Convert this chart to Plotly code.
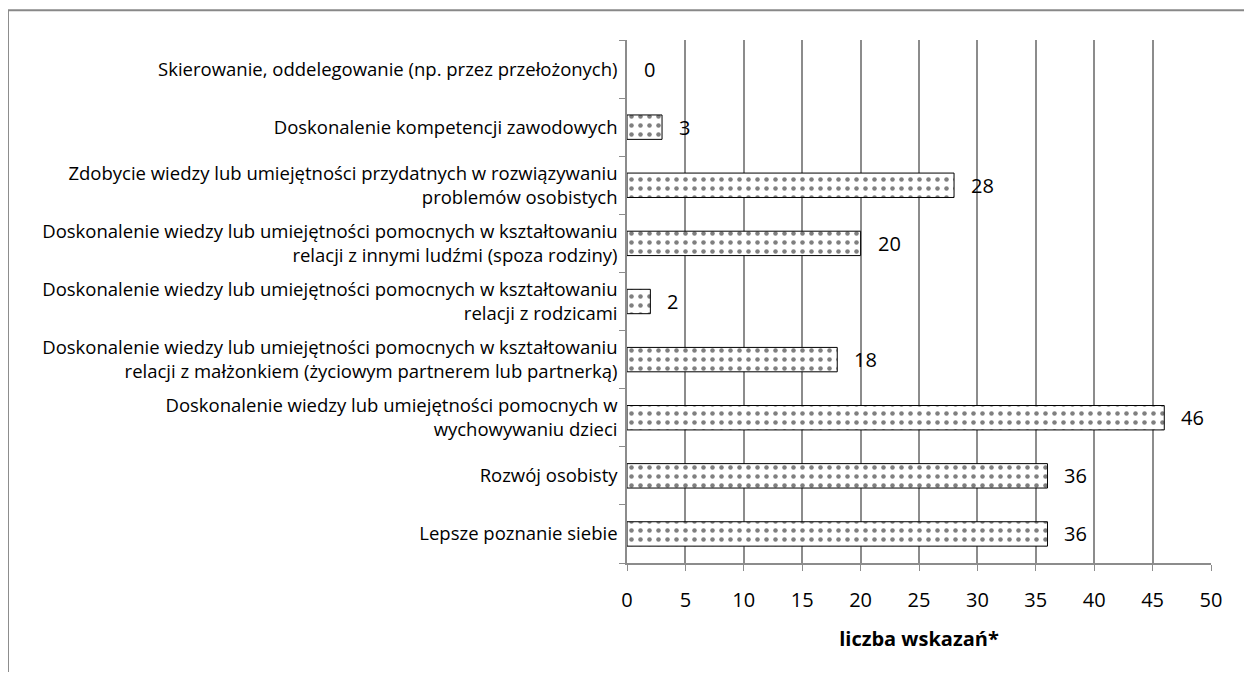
import plotly.graph_objs as go

categories = [
    'Lepsze poznanie siebie',
    'Rozwój osobisty',
    'Doskonalenie wiedzy lub umiejętności pomocnych w<br>wychowywaniu dzieci',
    'Doskonalenie wiedzy lub umiejętności pomocnych w kształtowaniu<br>relacji z małżonkiem (życiowym partnerem lub partnerką)',
    'Doskonalenie wiedzy lub umiejętności pomocnych w kształtowaniu<br>relacji z rodzicami',
    'Doskonalenie wiedzy lub umiejętności pomocnych w kształtowaniu<br>relacji z innymi ludźmi (spoza rodziny)',
    'Zdobycie wiedzy lub umiejętności przydatnych w rozwiązywaniu<br>problemów osobistych',
    'Doskonalenie kompetencji zawodowych',
    'Skierowanie, oddelegowanie (np. przez przełożonych)',
]
values = [36, 36, 46, 18, 2, 20, 28, 3, 0]
x_ticks = [0, 5, 10, 15, 20, 25, 30, 35, 40, 45, 50]

FONT = 'Open Sans, Noto Sans, sans-serif'

fig = go.Figure(data=go.Bar(
    y=categories, x=values, orientation='h', width=0.42,
    marker=dict(color='white',
                line=dict(color='black', width=[1 if v > 0 else 0 for v in values]),
                pattern=dict(shape='.', fgcolor='black', bgcolor='white',
                             size=9, solidity=0.2)),
))

for cat, val in zip(categories, values):
    fig.add_annotation(x=val, y=cat, text=str(val), showarrow=False,
                       xanchor='left', xshift=15,
                       font=dict(family=FONT, size=20, color='black'))

# outer chart frame: only top and left edges are visible in the window
fig.add_shape(type='line', xref='paper', yref='paper',
              x0=-1.06, x1=1.2, y0=1.057, y1=1.057,
              line=dict(color='#888888', width=2))
fig.add_shape(type='line', xref='paper', yref='paper',
              x0=-1.06, x1=-1.06, y0=-0.3, y1=1.057,
              line=dict(color='#888888', width=2))

fig.update_layout(
    width=1236, height=664,
    margin=dict(l=619, r=33, t=32, b=109, autoexpand=False),
    plot_bgcolor='white', paper_bgcolor='white',
    showlegend=False,
    font=dict(family=FONT, color='black'),
    xaxis=dict(range=[0, 50], tickvals=x_ticks, showgrid=True, automargin=False,
               gridcolor='#8c8c8c', gridwidth=1.5, zeroline=False,
               showline=True, linecolor='#8c8c8c', linewidth=1.5,
               ticks='outside', ticklen=6, tickcolor='#8c8c8c',
               tickfont=dict(size=20), ticklabelstandoff=12, fixedrange=True,
               title=dict(text='<b>liczba wskazań*</b>', font=dict(size=20), standoff=20)),
    yaxis=dict(type='category', categoryorder='array', categoryarray=categories,
               showline=True, linecolor='#8c8c8c', linewidth=1.5, automargin=False,
               ticks='outside', ticklen=6, tickcolor='#8c8c8c', tickson='boundaries',
               showgrid=False, tickfont=dict(size=18.5), ticklabelstandoff=4),
)

fig.write_html("out.html")
